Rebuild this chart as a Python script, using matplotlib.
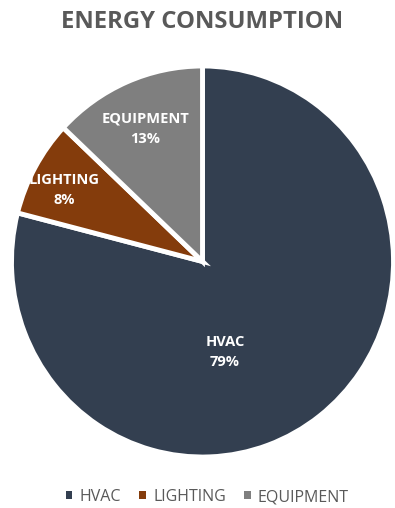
import numpy as np
import matplotlib
matplotlib.use("Agg")
import matplotlib.pyplot as plt
from matplotlib.patches import Patch

categories = ["HVAC", "LIGHTING", "EQUIPMENT"]
shares = [79, 8, 13]
colors = ["#333F50", "#843C0C", "#7F7F7F"]

plt.rcParams["font.family"] = ["Open Sans", "DejaVu Sans"]

W, H = 395, 508
fig = plt.figure(figsize=(W / 100, H / 100), dpi=100)
fig.patch.set_facecolor("white")

# pie axes placed in pixel units (slightly taller than wide)
rx_px, ry_px = 191, 195.5
cx, cy = 202.5, 508 - 261.5
ax = fig.add_axes([(cx - rx_px) / W, (cy - ry_px) / H, 2 * rx_px / W, 2 * ry_px / H])
wedges, _ = ax.pie(
    shares,
    colors=colors,
    startangle=90,
    counterclock=False,
    wedgeprops=dict(edgecolor="white", linewidth=3.5),
)
ax.set_xlim(-1, 1)
ax.set_ylim(-1, 1)
ax.set_aspect("auto")
ax.axis("off")

# data labels: radius fraction and angular shift from each wedge's middle
label_radius = [0.478, 0.81, 0.742]
angle_shift = [-23.5, 2.0, 0.5]
for w, name, val, rr, da in zip(wedges, categories, shares, label_radius, angle_shift):
    mid = np.deg2rad((w.theta1 + w.theta2) / 2 + da)
    ax.text(rr * np.cos(mid), rr * np.sin(mid), f"{name}\n{val}%",
            ha="center", va="center", color="white", fontsize=10.5,
            fontweight="bold", linespacing=1.6)

fig.text(0.512, 1 - 22 / H, "ENERGY CONSUMPTION", ha="center", va="center",
         fontsize=17.2, fontweight="bold", color="#595959")

handles = [Patch(facecolor=c, edgecolor="none") for c in colors]
fig.legend(handles, categories, loc="center", bbox_to_anchor=(0.525, 1 - 497 / H),
           ncol=3, frameon=False, fontsize=11.5, labelcolor="#595959",
           handlelength=0.4, handleheight=0.4, handletextpad=0.45,
           columnspacing=1.15)

fig.savefig("out.png", dpi=100)
